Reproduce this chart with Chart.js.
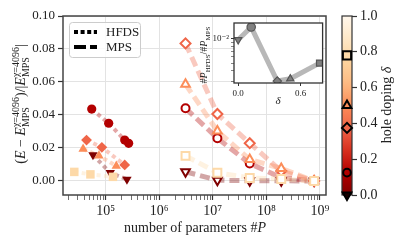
<!DOCTYPE html>
<html>
<head>
<meta charset="utf-8">
<script src="https://cdn.jsdelivr.net/npm/chart.js@4.4.1/dist/chart.umd.min.js"></script>
<style>
html, body { margin: 0; padding: 0; background: #fff; }
#wrap { position: relative; width: 407px; height: 244px; overflow: hidden; }
#wrap canvas { position: absolute; }
</style>
</head>
<body>
<div id="wrap">
  <canvas id="main" width="407" height="244" style="left:0;top:0"></canvas>
  <canvas id="inset" width="142" height="100" style="left:186px;top:8px"></canvas>
  <canvas id="cbar" width="77" height="244" style="left:330px;top:0"></canvas>
</div>
<script>
// hole doping of each series and its marker
const dopings = [0, 0.125, 0.375, 0.5, 0.78];
const markers = ['triangle', 'circle', 'rectRot', 'triangle', 'rect'];
const rotations = [180, 0, 0, 0, 0];

// HFDS: number of parameters and relative error, one row per doping
const hfdsParams = [
    [5.8e4, 1.22e5, 2.5e5],
    [5.5e4, 1.14e5, 2.27e5, 2.69e5],
    [4.4e4, 8.5e4, 2.27e5],
    [3.8e4, 7.5e4, 1.58e5],
    [2.6e4, 5.2e4, 1.37e5]
];
const hfdsErrors = [
    [0.0158, 0.005, 0.001],
    [0.0436, 0.035, 0.0248, 0.0228],
    [0.0248, 0.0204, 0.0097],
    [0.0194, 0.0153, 0.0091],
    [0.0055, 0.004, 0.0025]
];

// MPS: bond dimensions 256 ... 4096
const mpsParams = [3.1e6, 1.22e7, 4.9e7, 1.9e8, 7.8e8];
const mpsErrors = [
    [0.0056, 0.0005, 0.0001, 0.0001, 0],
    [0.0441, 0.0259, 0.0106, 0.002, 0],
    [0.0834, 0.0406, 0.0229, 0.006, 0],
    [0.0586, 0.0303, 0.013, 0.0076, 0],
    [0.0152, 0.005, 0.0018, 0.0012, 0]
];

// inset: #P_HFDS / #P_MPS against doping
const insetRatio = [9.7e-3, 1.39e-2, 3.0e-3, 3.2e-3, 5.0e-3];

// tick labels
const xMajorTicks = [1e5, 1e6, 1e7, 1e8, 1e9];
const xTickLabels = ['10⁵', '10⁶', '10⁷', '10⁸', '10⁹'];
const yTicks = [0, 0.02, 0.04, 0.06, 0.08, 0.10];
const cbarTicks = [0, 0.2, 0.4, 0.6, 0.8, 1.0];
const insetXTicks = [0, 0.6];
const insetYLabel = '10⁻²';

const SERIF = '"Liberation Serif", "DejaVu Serif", serif';
const INK = '#222';
const ORRD = ['#fff7ec', '#fee8c8', '#fdd49e', '#fdbb84', '#fc8d59', '#ef6548', '#d7301f', '#b30000', '#7f0000'];

function hexRgb(h) {
    return [1, 3, 5].map(i => parseInt(h.slice(i, i + 2), 16));
}

// reversed OrRd colormap
function cmapRgb(d) {
    const t = (1 - d) * 8;
    const i = Math.min(7, Math.floor(t));
    const f = t - i;
    const a = hexRgb(ORRD[i]);
    const b = hexRgb(ORRD[i + 1]);
    return a.map((v, k) => Math.round(v + (b[k] - v) * f));
}

function cmap(d, alpha = 1) {
    const c = cmapRgb(d);
    return 'rgba(' + c[0] + ',' + c[1] + ',' + c[2] + ',' + alpha + ')';
}

function isPow10(v) {
    const l = Math.log10(v);
    return Math.abs(l - Math.round(l)) < 1e-9;
}

// text with italics, sub- and superscripts
function drawRich(ctx, parts, x, y, rot) {
    ctx.save();
    ctx.translate(x, y);
    ctx.rotate(rot);
    ctx.fillStyle = INK;
    ctx.textBaseline = 'alphabetic';
    ctx.textAlign = 'left';
    const fontOf = (s, it) => (it ? 'italic ' : '') + s + 'px ' + SERIF;
    const widthOf = p => {
        if (p.t !== undefined) {
            ctx.font = fontOf(p.s, p.i);
            return ctx.measureText(p.t).width;
        }
        ctx.font = fontOf(p.s, false);
        return Math.max(ctx.measureText(p.sup || '').width, ctx.measureText(p.sub || '').width);
    };
    const total = parts.reduce((a, p) => a + widthOf(p), 0);
    let cx = -total / 2;
    parts.forEach(p => {
        const w = widthOf(p);
        if (p.t !== undefined) {
            ctx.font = fontOf(p.s, p.i);
            ctx.fillText(p.t, cx, 0);
        } else {
            ctx.font = fontOf(p.s, false);
            if (p.sup) ctx.fillText(p.sup, cx, -p.s * 0.62);
            if (p.sub) ctx.fillText(p.sub, cx, p.s * 0.38);
        }
        cx += w;
    });
    ctx.restore();
}

function frame(color, width) {
    return {
        id: 'frame',
        afterDatasetsDraw(chart) {
            const a = chart.chartArea;
            const ctx = chart.ctx;
            ctx.save();
            ctx.strokeStyle = color;
            ctx.lineWidth = width;
            ctx.strokeRect(a.left, a.top, a.right - a.left, a.bottom - a.top);
            ctx.restore();
        }
    };
}

// ---------- main chart ----------
// higher order is drawn first: all lines, then markers from low to high doping
const lineSets = [];
const pointSets = [];

dopings.forEach((d, k) => {
    const hfds = hfdsParams[k].map((x, i) => ({ x, y: hfdsErrors[k][i] }));
    const mps = mpsParams.map((x, i) => ({ x, y: mpsErrors[k][i] }));

    lineSets.push({
        data: hfds, showLine: true, pointRadius: 0, order: 30 - k,
        borderColor: cmap(d, 0.35), borderWidth: 4, borderDash: [4, 3.5]
    });
    lineSets.push({
        data: mps, showLine: true, pointRadius: 0, order: 30 - k,
        borderColor: cmap(d, 0.35), borderWidth: 5, borderDash: [10, 5]
    });

    pointSets.push({
        data: hfds, showLine: false, order: 10 - k,
        pointStyle: markers[k], rotation: rotations[k],
        pointRadius: markers[k] === 'rect' ? 6 : (markers[k] === 'circle' ? 4.6 : 5.4),
        pointBackgroundColor: cmap(d), pointBorderColor: cmap(d), pointBorderWidth: 0
    });
    pointSets.push({
        data: mps, showLine: false, order: 10 - k,
        pointStyle: markers[k], rotation: rotations[k],
        pointRadius: markers[k] === 'rect' ? 5.6 : (markers[k] === 'circle' ? 4 : 5),
        pointBackgroundColor: '#fff', pointBorderColor: cmap(d), pointBorderWidth: 2
    });
});

const mainLabels = {
    id: 'mainLabels',
    afterDraw(chart) {
        const ctx = chart.ctx;

        // legend
        ctx.save();
        ctx.fillStyle = 'rgba(255,255,255,0.85)';
        ctx.strokeStyle = '#cccccc';
        ctx.lineWidth = 1;
        ctx.beginPath();
        ctx.roundRect(69.5, 22.5, 71, 35, 3);
        ctx.fill();
        ctx.stroke();

        ctx.strokeStyle = '#000';
        ctx.lineWidth = 4;
        ctx.setLineDash([4, 2.6]);
        ctx.beginPath();
        ctx.moveTo(74, 32);
        ctx.lineTo(97, 32);
        ctx.stroke();
        ctx.setLineDash([12, 4]);
        ctx.beginPath();
        ctx.moveTo(74, 47);
        ctx.lineTo(97, 47);
        ctx.stroke();
        ctx.setLineDash([]);

        ctx.fillStyle = INK;
        ctx.font = '13px ' + SERIF;
        ctx.textBaseline = 'middle';
        ctx.fillText('HFDS', 106, 32.5);
        ctx.fillText('MPS', 106, 47.5);
        ctx.restore();

        // axis titles
        drawRich(ctx, [
            { t: '(', s: 14 }, { t: 'E', s: 14, i: true }, { t: ' − ', s: 14 }, { t: 'E', s: 14, i: true },
            { sup: 'χ=4096', sub: 'MPS', s: 10 },
            { t: ')/|', s: 14 }, { t: 'E', s: 14, i: true },
            { sup: 'χ=4096', sub: 'MPS', s: 10 },
            { t: '|', s: 14 }
        ], 25, 104, -Math.PI / 2);

        drawRich(ctx, [
            { t: 'number of parameters #', s: 14 }, { t: 'P', s: 14, i: true }
        ], 195, 232, 0);
    }
};

new Chart(document.getElementById('main'), {
    type: 'scatter',
    data: { datasets: lineSets.concat(pointSets) },
    options: {
        responsive: false,
        animation: false,
        layout: { padding: { left: 0, right: 81, top: 16, bottom: 0 } },
        plugins: {
            legend: { display: false },
            tooltip: { enabled: false }
        },
        scales: {
            x: {
                type: 'logarithmic',
                min: 1.6e4,
                max: 1.3e9,
                afterFit: s => { s.height = 49; },
                afterBuildTicks: s => {
                    const t = [];
                    for (let e = 4; e <= 9; e++) {
                        for (let m = 1; m <= 9; m++) {
                            const v = m * Math.pow(10, e);
                            if (v >= s.min && v <= s.max) t.push({ value: v, major: m === 1 });
                        }
                    }
                    s.ticks = t;
                },
                border: { display: false },
                grid: {
                    color: c => (c.tick && c.tick.major ? '#e3e3e3' : 'rgba(0,0,0,0)'),
                    lineWidth: 1,
                    tickColor: '#333',
                    tickLength: 5,
                    tickWidth: c => (c.tick && c.tick.major ? 1.2 : 0.7)
                },
                ticks: {
                    autoSkip: false,
                    maxRotation: 0,
                    padding: 3,
                    color: INK,
                    font: { family: SERIF, size: 14 },
                    callback: v => {
                        const i = xMajorTicks.findIndex(m => Math.abs(m - v) / m < 1e-9);
                        return i >= 0 ? xTickLabels[i] : '';
                    }
                }
            },
            y: {
                min: -0.0085,
                max: 0.1,
                afterFit: s => { s.width = 63; },
                afterBuildTicks: s => { s.ticks = yTicks.map(v => ({ value: v })); },
                border: { display: false },
                grid: {
                    color: '#e3e3e3',
                    tickColor: '#333',
                    tickLength: 5,
                    tickWidth: 1.2
                },
                ticks: {
                    padding: 3,
                    color: INK,
                    font: { family: SERIF, size: 13 },
                    callback: v => v.toFixed(2)
                }
            }
        }
    },
    plugins: [frame('#444', 1.5), mainLabels]
});

// ---------- inset ----------
const insetPoints = dopings.map((d, i) => ({ x: d, y: insetRatio[i] }));

const insetDecor = {
    id: 'insetDecor',
    beforeDraw(chart) {
        const a = chart.chartArea;
        chart.ctx.save();
        chart.ctx.fillStyle = '#fff';
        chart.ctx.fillRect(a.left, a.top, a.right - a.left, a.bottom - a.top);
        chart.ctx.restore();
    },
    afterDraw(chart) {
        const ctx = chart.ctx;
        drawRich(ctx, [
            { t: '#', s: 10 }, { t: 'P', s: 10, i: true }, { sub: 'HFDS', s: 7 },
            { t: '/#', s: 10 }, { t: 'P', s: 10, i: true }, { sub: 'MPS', s: 7 }
        ], 21, 47, -Math.PI / 2);
        drawRich(ctx, [{ t: 'δ', s: 11, i: true }], 92, 96, 0);
    }
};

new Chart(document.getElementById('inset'), {
    type: 'scatter',
    data: {
        datasets: [
            {
                data: insetPoints, showLine: true, pointRadius: 0, order: 2,
                borderColor: 'rgba(160,160,160,0.75)', borderWidth: 5
            },
            {
                data: insetPoints, showLine: false, order: 1,
                pointStyle: markers, rotation: rotations,
                pointRadius: 4.2,
                pointBackgroundColor: '#808080', pointBorderColor: '#555', pointBorderWidth: 1.2
            }
        ]
    },
    options: {
        responsive: false,
        animation: false,
        layout: { padding: { left: 0, right: 5, top: 15, bottom: 0 } },
        plugins: {
            legend: { display: false },
            tooltip: { enabled: false }
        },
        scales: {
            x: {
                min: -0.04,
                max: 0.81,
                afterFit: s => { s.height = 25; },
                afterBuildTicks: s => { s.ticks = insetXTicks.map(v => ({ value: v })); },
                border: { display: false },
                grid: { drawOnChartArea: false, tickColor: '#333', tickLength: 3, tickWidth: 1 },
                ticks: {
                    autoSkip: false, maxRotation: 0, padding: 2, color: INK,
                    font: { family: SERIF, size: 9 },
                    callback: v => v.toFixed(1)
                }
            },
            y: {
                type: 'logarithmic',
                min: 2.84e-3,
                max: 1.56e-2,
                afterFit: s => { s.width = 48; },
                afterBuildTicks: s => {
                    const t = [];
                    for (let m = 3; m <= 10; m++) t.push({ value: m * 1e-3, major: m === 10 });
                    s.ticks = t;
                },
                border: { display: false },
                grid: {
                    drawOnChartArea: false, tickColor: '#333', tickLength: 3,
                    tickWidth: c => (c.tick && c.tick.major ? 1 : 0.6)
                },
                ticks: {
                    autoSkip: false, padding: 2, color: INK,
                    font: { family: SERIF, size: 9 },
                    callback: v => (isPow10(v) ? insetYLabel : '')
                }
            }
        }
    },
    plugins: [insetDecor, frame('#333', 1.3)]
});

// ---------- colorbar ----------
const cbarDecor = {
    id: 'cbarDecor',
    beforeDatasetsDraw(chart) {
        const a = chart.chartArea;
        const y = chart.scales.y;
        const ctx = chart.ctx;
        const g = ctx.createLinearGradient(0, y.getPixelForValue(0), 0, y.getPixelForValue(1));
        for (let i = 0; i <= 20; i++) g.addColorStop(i / 20, cmap(i / 20));
        ctx.save();
        ctx.fillStyle = g;
        ctx.fillRect(a.left, a.top, a.right - a.left, a.bottom - a.top);
        ctx.strokeStyle = '#333';
        ctx.lineWidth = 1.2;
        ctx.strokeRect(a.left, a.top, a.right - a.left, a.bottom - a.top);
        ctx.restore();
    },
    afterDraw(chart) {
        drawRich(chart.ctx, [{ t: 'hole doping ', s: 14 }, { t: 'δ', s: 14, i: true }], 61, 105, -Math.PI / 2);
    }
};

new Chart(document.getElementById('cbar'), {
    type: 'scatter',
    data: {
        datasets: [{
            data: dopings.map(d => ({ x: 0.5, y: d })),
            clip: false,
            pointStyle: markers, rotation: rotations,
            pointRadius: markers.map(m => (m === 'rect' ? 5.8 : (m === 'circle' ? 3.8 : 5))),
            pointBackgroundColor: dopings.map(d => (d === 0 ? '#1a0000' : cmap(d))),
            pointBorderColor: '#000', pointBorderWidth: 2
        }]
    },
    options: {
        responsive: false,
        animation: false,
        layout: { padding: { left: 12, right: 0, top: 16, bottom: 49 } },
        plugins: {
            legend: { display: false },
            tooltip: { enabled: false }
        },
        scales: {
            x: { display: false, min: 0, max: 1 },
            y: {
                position: 'right',
                min: 0,
                max: 1,
                afterFit: s => { s.width = 55; },
                afterBuildTicks: s => { s.ticks = cbarTicks.map(v => ({ value: v })); },
                border: { display: false },
                grid: { drawOnChartArea: false, tickColor: '#333', tickLength: 5, tickWidth: 1.2 },
                ticks: {
                    padding: 3, color: INK,
                    font: { family: SERIF, size: 14 },
                    callback: v => v.toFixed(1)
                }
            }
        }
    },
    plugins: [cbarDecor]
});
</script>
</body>
</html>
